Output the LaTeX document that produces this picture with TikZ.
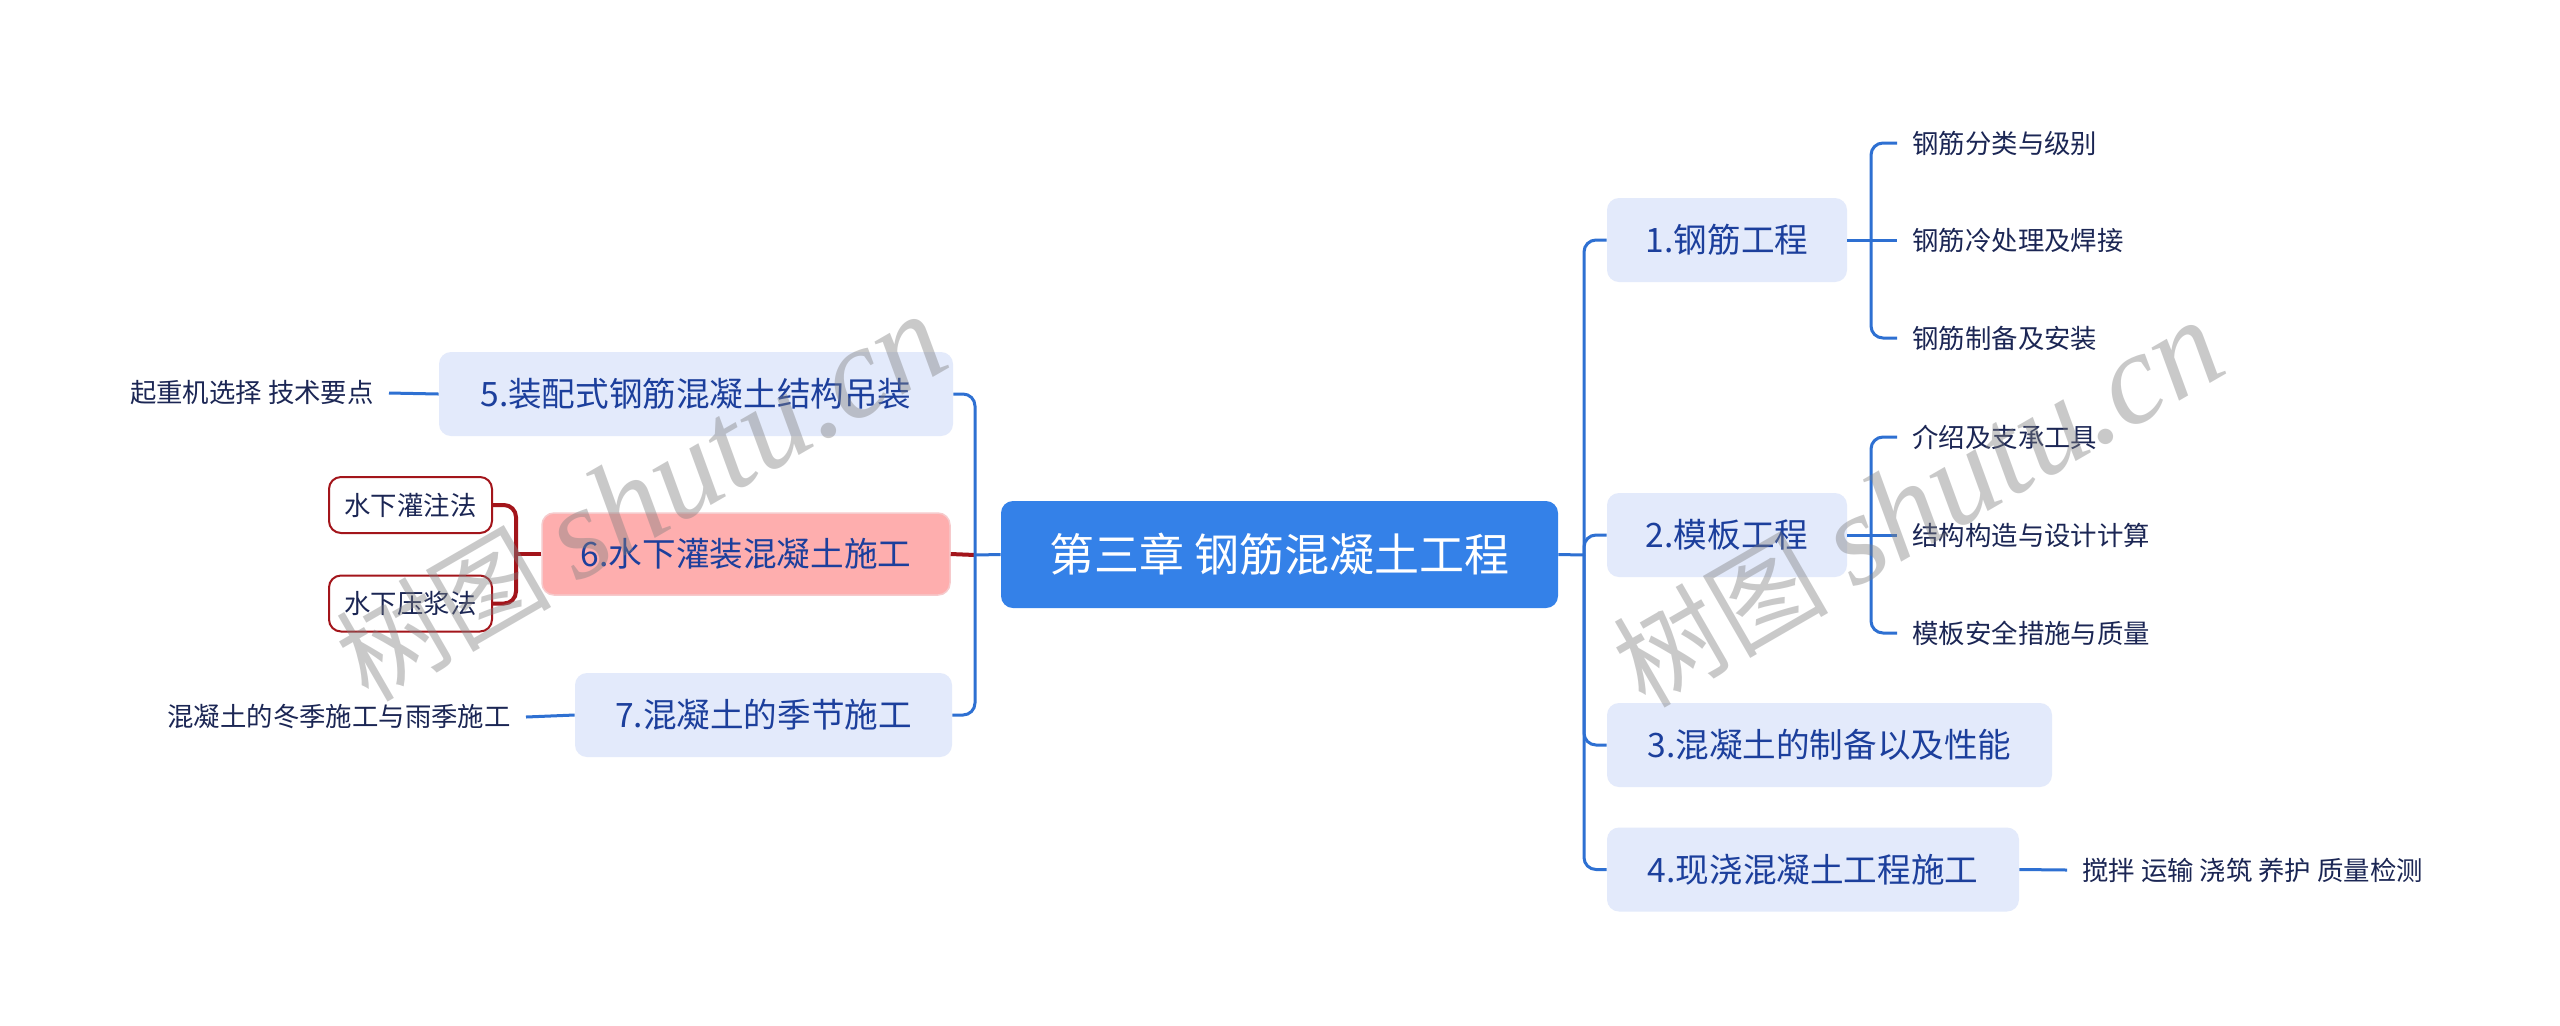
\documentclass[tikz,border=0pt]{standalone}
\usepackage{fontspec}
\setmainfont{Noto Sans CJK SC}
\newfontfamily\wmlatin{Liberation Serif}
\definecolor{rootblue}{HTML}{3481E8}
\definecolor{boxfill}{HTML}{E3EAFB}
\definecolor{txtblue}{HTML}{1C3F9C}
\definecolor{leafnavy}{HTML}{1B2654}
\definecolor{lineblue}{HTML}{2E70D2}
\definecolor{pinkfill}{HTML}{FEAEAE}
\definecolor{pinkline}{HTML}{F6CACC}
\definecolor{darkred}{HTML}{A3151B}
\tikzset{
  rootbox/.style={rectangle, rounded corners=6pt, fill=rootblue, text=white, inner sep=0pt, font=\fontsize{22.5pt}{26pt}\selectfont},
  topicbox/.style={rectangle, rounded corners=6pt, fill=boxfill, text=txtblue, inner sep=0pt, minimum height=42pt, font=\fontsize{16.8pt}{20pt}\selectfont},
  pinkbox/.style={topicbox, fill=pinkfill, draw=pinkline, line width=0.75pt},
  subbox/.style={rectangle, rounded corners=6pt, draw=darkred, line width=1pt, fill=white, text=leafnavy, inner sep=0pt, minimum width=81.5pt, minimum height=28pt, font=\fontsize{13.2pt}{16pt}\selectfont},
  leaftext/.style={inner xsep=7.5pt, inner ysep=2pt, text=leafnavy, font=\fontsize{13.2pt}{16pt}\selectfont},
  link/.style={draw=lineblue, line width=1.5pt, rounded corners=6pt},
  redlink/.style={draw=darkred, line width=2pt, rounded corners=6pt},
  watermark/.style={text=gray, text opacity=0.42, inner sep=0pt, anchor=base west, rotate=30}
}
\begin{document}
\begin{tikzpicture}[x=0.5pt,y=-0.5pt]
\useasboundingbox (0,0) rectangle (2560,1025);
\fill[white] (0,0) rectangle (2560,1025);
\node[rootbox, minimum width=278.5pt, minimum height=53.5pt] (root) at (1279.5,554.5){第三章 钢筋混凝土工程};
\node[topicbox, minimum width=120pt] (b1) at (1727,240){1.钢筋工程};
\node[topicbox, minimum width=120pt] (b2) at (1727,535){2.模板工程};
\node[topicbox, minimum width=222.5pt] (b3) at (1829.5,745){3.混凝土的制备以及性能};
\node[topicbox, minimum width=206pt] (b4) at (1813,869.5){4.现浇混凝土工程施工};
\node[topicbox, minimum width=257pt] (b5) at (696,394){5.装配式钢筋混凝土结构吊装};
\node[pinkbox, minimum width=204pt, minimum height=41pt] (b6) at (746,554){6.水下灌装混凝土施工};
\node[topicbox, minimum width=188.5pt] (b7) at (763.5,715){7.混凝土的季节施工};
\node[subbox] (s61) at (410.5,505){水下灌注法};
\node[subbox] (s62) at (410.5,603.5){水下压浆法};
\node[leaftext, anchor=west] (l11) at (1897,143){钢筋分类与级别};
\node[leaftext, anchor=west] (l12) at (1897,240){钢筋冷处理及焊接};
\node[leaftext, anchor=west] (l13) at (1897,338){钢筋制备及安装};
\node[leaftext, anchor=west] (l21) at (1897,437){介绍及支承工具};
\node[leaftext, anchor=west] (l22) at (1897,535){结构构造与设计计算};
\node[leaftext, anchor=west] (l23) at (1897,633){模板安全措施与质量};
\node[leaftext, anchor=west] (l41) at (2067,870){搅拌 运输 浇筑 养护 质量检测};
\node[leaftext, anchor=east] (l51) at (389,393){起重机选择 技术要点};
\node[leaftext, anchor=east] (l71) at (526,717){混凝土的冬季施工与雨季施工};
\coordinate (rj) at (1584,555);
\coordinate (lj) at (975,555);
\coordinate (j1) at (1871,240);
\coordinate (j2) at (1871,535);
\coordinate (j6) at (516,554);
\draw[link](root.east) -- (rj);
\draw[link](rj) |- (b1.west);
\draw[link](rj) |- (b2.west);
\draw[link](rj) |- (b3.west);
\draw[link](rj) |- (b4.west);
\draw[link](b1.east) -- (j1);
\draw[link](j1) |- (l11.west);
\draw[link](j1) -- (l12.west);
\draw[link](j1) |- (l13.west);
\draw[link](b2.east) -- (j2);
\draw[link](j2) |- (l21.west);
\draw[link](j2) -- (l22.west);
\draw[link](j2) |- (l23.west);
\draw[link](b4.east) -- (l41.west);
\draw[redlink](lj) -- (b6.east);
\draw[link](root.west) -- (lj);
\draw[link](lj) |- (b5.east);
\draw[link](lj) |- (b7.east);
\draw[link](b5.west) -- (l51.east);
\draw[link](b7.west) -- (l71.east);
\draw[redlink](b6.west) -- (j6);
\draw[redlink](j6) |- (s61.east);
\draw[redlink](j6) |- (s62.east);
\node[watermark] (wm1) at (368,704){\fontsize{54pt}{58pt}\selectfont 树图 \wmlatin\itshape\fontsize{65pt}{70pt}\selectfont shutu.cn};
\node[watermark] (wm2) at (1645,710){\fontsize{54pt}{58pt}\selectfont 树图 \wmlatin\itshape\fontsize{65pt}{70pt}\selectfont shutu.cn};
\end{tikzpicture}
\end{document}
